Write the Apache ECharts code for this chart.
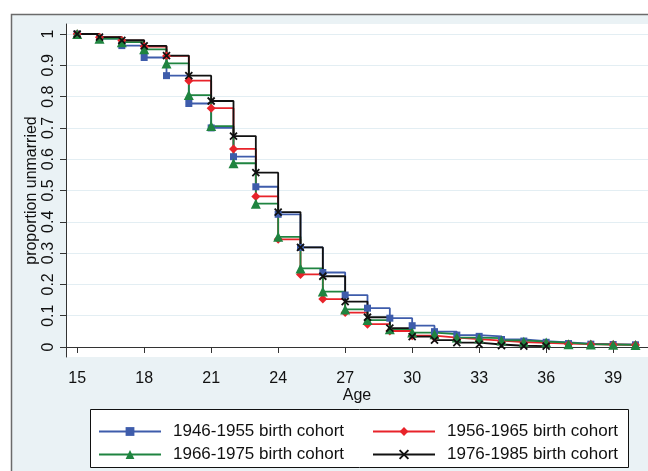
<!DOCTYPE html>
<html>
<head>
<meta charset="utf-8">
<script src="https://cdn.jsdelivr.net/npm/echarts@6/dist/echarts.min.js"></script>
<style>
  html, body { margin: 0; padding: 0; background: #fff; }
  #chart { width: 648px; height: 471px; }
</style>
</head>
<body>
<div id="chart"></div>
<script>
// ages (x) and proportion unmarried per cohort
const ages = [15, 16, 17, 18, 19, 20, 21, 22, 23, 24, 25, 26, 27, 28, 29, 30, 31, 32, 33, 34, 35, 36, 37, 38, 39, 40]
const cohort4655 = [1.0, 0.985, 0.963, 0.925, 0.867, 0.778, 0.70, 0.608, 0.512, 0.424, 0.318, 0.238, 0.166, 0.124, 0.092, 0.068, 0.049, 0.038, 0.034, 0.024, 0.019, 0.015, 0.011, 0.009, 0.008, 0.007]
const cohort5665 = [1.0, 0.99, 0.979, 0.96, 0.93, 0.851, 0.763, 0.633, 0.481, 0.344, 0.232, 0.153, 0.11, 0.073, 0.051, 0.036, 0.03, 0.025, 0.02, 0.016, 0.013, 0.011, 0.009, 0.008, 0.007, 0.006]
const cohort6675 = [1.0, 0.985, 0.974, 0.951, 0.906, 0.805, 0.706, 0.587, 0.458, 0.352, 0.251, 0.177, 0.12, 0.086, 0.057, 0.046, 0.041, 0.03, 0.028, 0.021, 0.017, 0.014, 0.009, 0.008, 0.007, 0.006]
const cohort7685 = [1.0, 0.99, 0.98, 0.962, 0.931, 0.867, 0.786, 0.674, 0.557, 0.431, 0.318, 0.226, 0.145, 0.095, 0.06, 0.033, 0.022, 0.014, 0.008, 0.004, 0.003, 0.003]
const cohortNames = ['1946-1955 birth cohort', '1956-1965 birth cohort', '1966-1975 birth cohort', '1976-1985 birth cohort']
const xTicks = [15, 18, 21, 24, 27, 30, 33, 36, 39]
const yTicks = [0, 0.1, 0.2, 0.3, 0.4, 0.5, 0.6, 0.7, 0.8, 0.9, 1]

const FONT = '"Liberation Sans", Arial, sans-serif'
const crossPath = 'path://M0,0 L10,10 M10,0 L0,10'

function pairs(values) {
  return values.map((v, i) => [ages[i], v])
}

function stepSeries(name, values, color, symbol, size) {
  const isCross = symbol === crossPath
  return {
    name: name,
    type: 'line',
    step: 'end',
    data: pairs(values),
    symbol: symbol,
    symbolSize: size,
    showAllSymbol: true,
    lineStyle: { color: color, width: 1.8 },
    itemStyle: isCross
      ? { color: 'rgba(0,0,0,0)', borderColor: color, borderWidth: 1.8 }
      : { color: color, borderWidth: 0 },
    emphasis: { disabled: true },
    animation: false
  }
}

// one legend per entry so the 2x2 layout is exact
function legendItem(name, left, top) {
  return {
    data: [name],
    left: left,
    top: top,
    padding: 0,
    itemWidth: 62,
    itemHeight: 11,
    itemGap: 0,
    textStyle: { fontFamily: FONT, fontSize: 17, color: '#111', padding: [0, 0, 0, 7] }
  }
}

const chart = echarts.init(document.getElementById('chart'))

chart.setOption({
  animation: false,
  graphic: [
    {
      type: 'rect',
      shape: { x: 11.5, y: 14.5, width: 700, height: 500 },
      style: { fill: '#eaf2f5', stroke: '#6b6b6b', lineWidth: 1.5 },
      z: -10
    },
    {
      type: 'rect',
      shape: { x: 90.5, y: 409.5, width: 538, height: 58 },
      style: { fill: '#fff', stroke: '#111', lineWidth: 1 },
      z: -5
    }
  ],
  grid: {
    left: 66,
    top: 24,
    right: 0,
    bottom: 114,
    show: true,
    backgroundColor: '#fff',
    borderWidth: 0
  },
  legend: [
    legendItem(cohortNames[0], 98, 423),
    legendItem(cohortNames[1], 372, 423),
    legendItem(cohortNames[2], 98, 446),
    legendItem(cohortNames[3], 372, 446)
  ],
  xAxis: {
    type: 'value',
    min: 14.5,
    max: 40.56,
    name: 'Age',
    nameLocation: 'middle',
    nameGap: 31,
    nameMoveOverlap: false,
    nameTextStyle: { fontFamily: FONT, fontSize: 16, color: '#111' },
    axisLine: { show: true, lineStyle: { color: '#333', width: 1 } },
    axisTick: { show: true, length: 6, customValues: xTicks, lineStyle: { color: '#333' } },
    axisLabel: { customValues: xTicks, margin: 14, fontFamily: FONT, fontSize: 16, color: '#111' },
    splitLine: { show: false }
  },
  yAxis: {
    type: 'value',
    min: -0.032,
    max: 1.032,
    name: 'proportion unmarried',
    nameLocation: 'middle',
    nameGap: 26,
    nameMoveOverlap: false,
    nameRotate: 90,
    nameTextStyle: { fontFamily: FONT, fontSize: 16, color: '#111' },
    axisLine: { show: true, lineStyle: { color: '#333', width: 1 } },
    axisTick: { show: true, length: 6, customValues: yTicks, lineStyle: { color: '#333' } },
    axisLabel: { customValues: yTicks, rotate: 90, margin: 9, fontFamily: FONT, fontSize: 16, color: '#111' },
    splitLine: { show: true, lineStyle: { color: '#e3eef3', width: 1.2 } }
  },
  series: [
    stepSeries(cohortNames[0], cohort4655, '#3e5cab', 'rect', 7),
    stepSeries(cohortNames[1], cohort5665, '#e8232a', 'diamond', 9),
    stepSeries(cohortNames[2], cohort6675, '#1f8440', 'triangle', 10),
    stepSeries(cohortNames[3], cohort7685, '#111111', crossPath, 7)
  ]
})
</script>
</body>
</html>
